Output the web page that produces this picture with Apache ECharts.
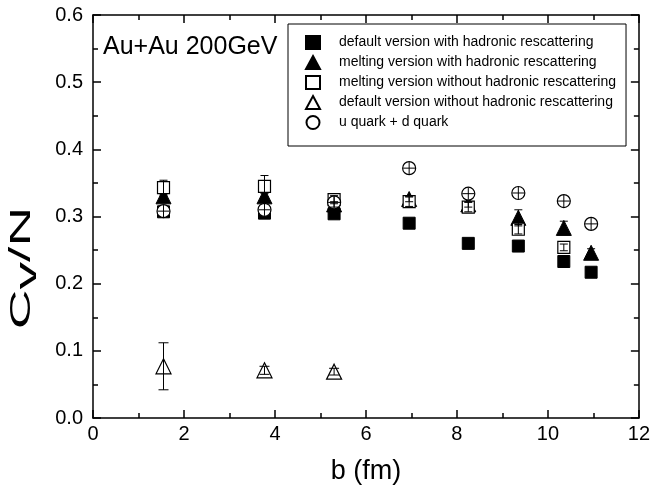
<!DOCTYPE html>
<html><head><meta charset="utf-8">
<script src="https://cdn.jsdelivr.net/npm/echarts@6/dist/echarts.min.js"></script>
<style>html,body{margin:0;padding:0;background:#fff}#c{width:653px;height:494px}</style>
</head><body><div id="c"></div>
<script>
// ---- data ----
const xTicks = [0, 2, 4, 6, 8, 10, 12];
const yTicks = [0.0, 0.1, 0.2, 0.3, 0.4, 0.5, 0.6];
const seriesNames = [
  'default version with hadronic rescattering',
  'melting version with hadronic rescattering',
  'melting version without hadronic rescattering',
  'default version without hadronic rescattering',
  'u quark + d quark'
];
const bDefHad = [1.55, 3.77, 5.3, 6.95, 8.25, 9.35, 10.35, 10.95];
const defHad = [0.307, 0.305, 0.304, 0.290, 0.260, 0.256, 0.233, 0.217];
const bMeltHad = [1.55, 3.77, 5.3, 6.95, 8.25, 9.35, 10.35, 10.95];
const meltHad = [0.330, 0.330, 0.318, 0.326, 0.318, 0.298, 0.283, 0.246];
const meltHadErr = [0.004, 0.004, 0.004, 0.004, 0.004, 0.012, 0.010, 0.006];
const bMeltNoHad = [1.55, 3.77, 5.3, 6.95, 8.25, 9.35, 10.35];
const meltNoHad = [0.343, 0.345, 0.325, 0.322, 0.314, 0.281, 0.254];
const meltNoHadErr = [0.011, 0.016, 0.006, 0.007, 0.007, 0.007, 0.005];
const bDefNoHad = [1.55, 3.77, 5.3];
const defNoHad = [0.077, 0.071, 0.069];
const defNoHadErr = [0.035, 0.006, 0.005];
const bQuark = [1.55, 3.77, 5.3, 6.95, 8.25, 9.35, 10.35, 10.95];
const quark = [0.308, 0.310, 0.321, 0.372, 0.334, 0.335, 0.323, 0.289];
const quarkErr = [0.009, 0.009, 0.009, 0.009, 0.009, 0.009, 0.009, 0.009];

// ---- chart ----
const FONT = '"Liberation Sans", Arial, Helvetica, sans-serif';
const chart = echarts.init(document.getElementById('c'), null, {renderer: 'canvas'});

function pairs(xs, ys) { return xs.map((x, i) => [x, ys[i]]); }
function errSeries(xs, ys, es, z, cap, plus) {
  return {
    type: 'custom', z: z, silent: true,
    data: xs.map((x, i) => [x, ys[i] - es[i], ys[i] + es[i], ys[i]]),
    encode: {x: 0, y: [1, 2]},
    renderItem: function (params, api) {
      const lo = api.coord([api.value(0), api.value(1)]);
      const hi = api.coord([api.value(0), api.value(2)]);
      const mid = api.coord([api.value(0), api.value(3)]);
      const st = {stroke: '#000', lineWidth: 1};
      const kids = [{type: 'line', shape: {x1: lo[0], y1: lo[1], x2: hi[0], y2: hi[1]}, style: st}];
      if (plus) {
        kids.push({type: 'line', shape: {x1: mid[0] - cap, y1: mid[1], x2: mid[0] + cap, y2: mid[1]}, style: st});
      } else {
        kids.push({type: 'line', shape: {x1: lo[0] - cap, y1: lo[1], x2: lo[0] + cap, y2: lo[1]}, style: st});
        kids.push({type: 'line', shape: {x1: hi[0] - cap, y1: hi[1], x2: hi[0] + cap, y2: hi[1]}, style: st});
      }
      return {type: 'group', children: kids};
    }
  };
}
const filled = {color: '#000', borderColor: '#000', borderWidth: 1, opacity: 1};
const open = {color: '#fff', borderColor: '#000', borderWidth: 1.2, opacity: 1};

function axisCommon(showLabel) {
  return {
    axisLine: {show: true, onZero: false, lineStyle: {color: '#000', width: 1.5}},
    axisTick: {show: true, inside: true, length: 8, lineStyle: {color: '#000', width: 1.5}},
    minorTick: {show: true, splitNumber: 2, length: 5, lineStyle: {color: '#000', width: 1.5}},
    splitLine: {show: false},
    axisLabel: {show: showLabel, color: '#000', fontSize: 20, fontFamily: FONT}
  };
}

const option = {
  animation: false,
  backgroundColor: '#fff',
  grid: {left: 93, right: 13, top: 15, bottom: 76, containLabel: false},
  xAxis: [
    Object.assign({type: 'value', min: xTicks[0], max: xTicks[xTicks.length - 1], interval: 2, position: 'bottom',
      name: 'b (fm)', nameLocation: 'middle', nameGap: 40,
      nameTextStyle: {color: '#000', fontSize: 27, fontFamily: FONT}}, axisCommon(true),
      {axisLabel: {color: '#000', fontSize: 20, fontFamily: FONT, margin: 6}}),
    Object.assign({type: 'value', min: 0, max: 12, interval: 2, position: 'top'}, axisCommon(false))
  ],
  yAxis: [
    Object.assign({type: 'value', min: yTicks[0], max: yTicks[yTicks.length - 1], interval: 0.1, position: 'left'}, axisCommon(true),
      {axisLabel: {color: '#000', fontSize: 20, fontFamily: FONT, margin: 10, formatter: v => v.toFixed(1)}}),
    Object.assign({type: 'value', min: 0, max: 0.6, interval: 0.1, position: 'right'}, axisCommon(false))
  ],
  legend: {
    data: seriesNames,
    orient: 'vertical', left: 288, top: 24,
    itemWidth: 14, itemHeight: 13, itemGap: 5,
    padding: [11, 10, 16, 17],
    borderColor: '#000', borderWidth: 1,
    textStyle: {color: '#000', fontSize: 14, fontFamily: FONT, lineHeight: 13, padding: [0, 0, 0, 14]},
    selectedMode: false
  },
  graphic: [
    {type: 'text', left: 103, top: 35, style: {text: 'Au+Au 200GeV', font: '25px ' + FONT, fill: '#000'}},
    {type: 'text', x: 24, y: 268, rotation: Math.PI / 2, scaleX: 1.9, scaleY: 1,
      style: {text: '{c|C}{v|v}{c|/N}', fill: '#000', align: 'center', verticalAlign: 'middle',
        rich: {c: {fontSize: 29, fontFamily: FONT, lineHeight: 34, verticalAlign: 'top'},
               v: {fontSize: 29, fontFamily: FONT, lineHeight: 34, padding: [6, 0, 0, 0], verticalAlign: 'top'}}}}
  ],
  series: [
    {name: seriesNames[0], type: 'scatter', symbol: 'rect', symbolSize: 12, z: 2, itemStyle: filled, data: pairs(bDefHad, defHad)},
    {name: seriesNames[1], type: 'scatter', symbol: 'triangle', symbolSize: 15, z: 3, itemStyle: filled, data: pairs(bMeltHad, meltHad)},
    {name: seriesNames[2], type: 'scatter', symbol: 'rect', symbolSize: 12, z: 4, itemStyle: open, data: pairs(bMeltNoHad, meltNoHad)},
    {name: seriesNames[3], type: 'scatter', symbol: 'triangle', symbolSize: 15, z: 5, itemStyle: open, data: pairs(bDefNoHad, defNoHad)},
    {name: seriesNames[4], type: 'scatter', symbol: 'circle', symbolSize: 13, z: 6, itemStyle: open, data: pairs(bQuark, quark)},
    errSeries(bMeltHad, meltHad, meltHadErr, 7, 4, false),
    errSeries(bMeltNoHad, meltNoHad, meltNoHadErr, 7, 4, false),
    errSeries(bDefNoHad, defNoHad, defNoHadErr, 7, 5, false),
    errSeries(bQuark, quark, quarkErr, 7, 6, true)
  ]
};
chart.setOption(option);
</script></body></html>
